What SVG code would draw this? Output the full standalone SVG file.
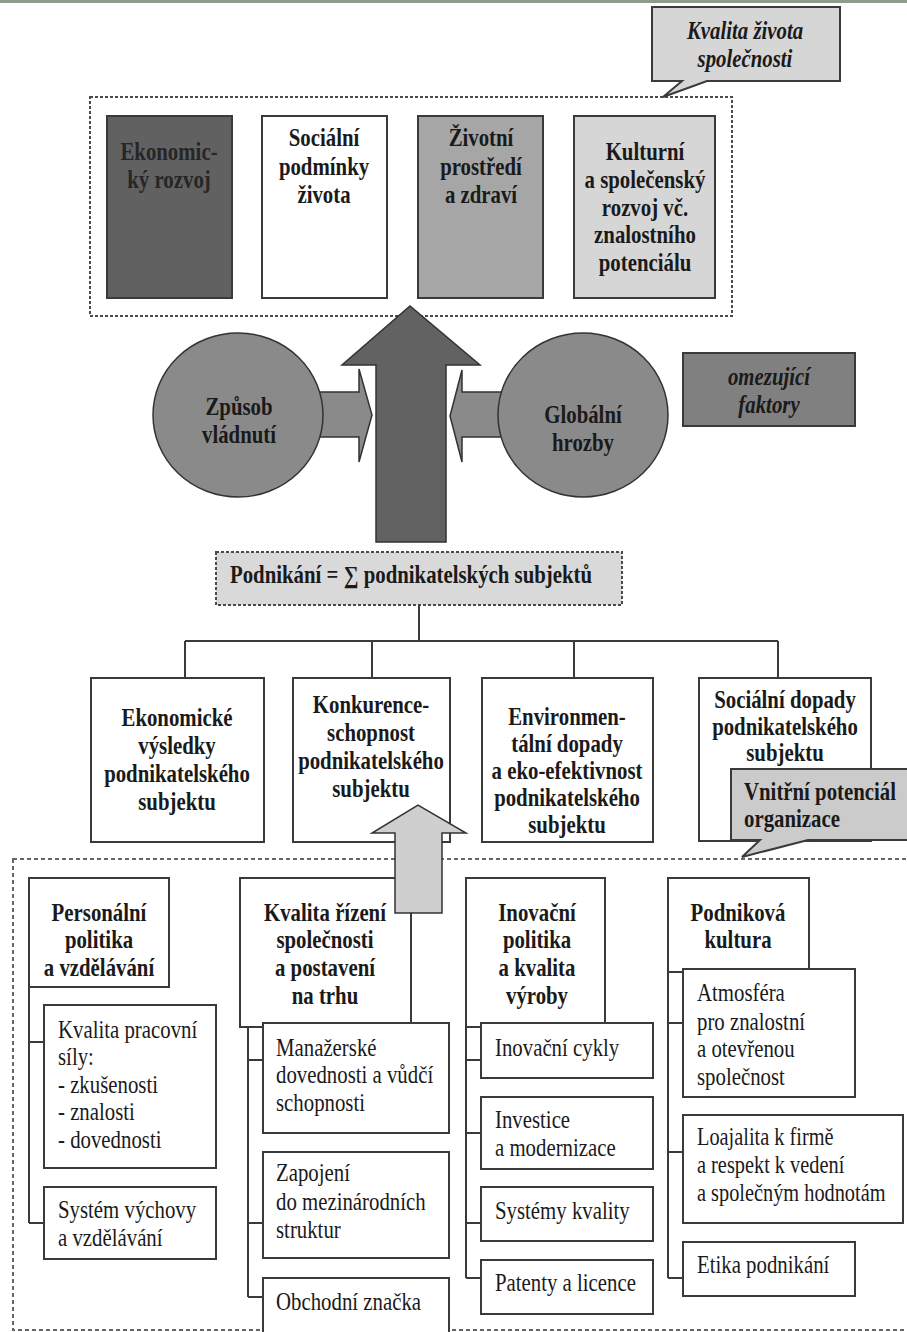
<svg xmlns="http://www.w3.org/2000/svg" width="907" height="1332" viewBox="0 0 907 1332">
<style>
text{font-family:"Liberation Serif","Times New Roman",serif;fill:#1a1a1a;font-size:24.5px}
.b{font-weight:bold;text-anchor:middle}
.bl{font-weight:bold;text-anchor:start}
.bi{font-weight:bold;font-style:italic;text-anchor:middle}
.r{text-anchor:start}
.box{fill:#fff;stroke:#3a3a3a;stroke-width:2}
.ln{fill:none;stroke:#3a3a3a;stroke-width:2}
.dot{fill:none;stroke:#4a4a4a;stroke-width:2;stroke-dasharray:3 2}
.shape{stroke:#333;stroke-width:1.5}
</style>
<rect x="0" y="0" width="907" height="1332" fill="#fff"/>
<rect x="0" y="0" width="907" height="3" fill="#8e9b8d"/>

<rect id="frame-top" class="dot" x="90" y="97" width="642" height="219"/>
<rect id="frame-bottom" x="13" y="859" width="910" height="471" fill="none" stroke="#666" stroke-width="2" stroke-dasharray="4 3"/>

<g id="callout-kvalita">
<path d="M652,7 H840 V81 H707 L663,97 L682,81 H652 Z" fill="#d6d6d6" stroke="#3a3a3a" stroke-width="2"/>
<g transform="translate(745 0) scale(0.85 1)">
<text class="bi" x="0" y="39">Kvalita života</text>
<text class="bi" x="0" y="67">společnosti</text>
</g>
</g>

<g id="box-ekonomicky-rozvoj">
<rect x="107" y="116" width="125" height="182" fill="#616161" stroke="#3a3a3a" stroke-width="2"/>
<g transform="translate(169 0) scale(0.85 1)">
<text class="b" x="0" y="160" style="fill:#262626">Ekonomic-</text>
<text class="b" x="0" y="188" style="fill:#262626">ký rozvoj</text>
</g>
</g>
<g id="box-socialni-podminky">
<rect class="box" x="262" y="116" width="125" height="182"/>
<g transform="translate(324 0) scale(0.85 1)">
<text class="b" x="0" y="146">Sociální</text>
<text class="b" x="0" y="175">podmínky</text>
<text class="b" x="0" y="203">života</text>
</g>
</g>
<g id="box-zivotni-prostredi">
<rect x="418" y="116" width="125" height="182" fill="#a6a6a6" stroke="#3a3a3a" stroke-width="2"/>
<g transform="translate(481 0) scale(0.85 1)">
<text class="b" x="0" y="146">Životní</text>
<text class="b" x="0" y="175">prostředí</text>
<text class="b" x="0" y="203">a zdraví</text>
</g>
</g>
<g id="box-kulturni-rozvoj">
<rect x="574" y="116" width="141" height="182" fill="#d6d6d6" stroke="#3a3a3a" stroke-width="2"/>
<g transform="translate(645 0) scale(0.85 1)">
<text class="b" x="0" y="160">Kulturní</text>
<text class="b" x="0" y="188">a společenský</text>
<text class="b" x="0" y="216">rozvoj vč.</text>
<text class="b" x="0" y="243">znalostního</text>
<text class="b" x="0" y="271">potenciálu</text>
</g>
</g>

<g id="arrow-left-small"><path class="shape" d="M316,392 H359 V369 L372,415 L359,462 V437 H316 Z" fill="#8a8a8a"/></g>
<g id="arrow-right-small"><path class="shape" d="M506,392 H462 V370 L450,416 L462,462 V437 H506 Z" fill="#8a8a8a"/></g>
<g id="circle-zpusob-vladnuti">
<ellipse class="shape" cx="238" cy="415" rx="85" ry="82" fill="#8a8a8a"/>
<g transform="translate(239 0) scale(0.85 1)">
<text class="b" x="0" y="415">Způsob</text>
<text class="b" x="0" y="443">vládnutí</text>
</g>
</g>
<g id="circle-globalni-hrozby">
<ellipse class="shape" cx="583" cy="415" rx="85" ry="82" fill="#8a8a8a"/>
<g transform="translate(583 0) scale(0.85 1)">
<text class="b" x="0" y="423">Globální</text>
<text class="b" x="0" y="451">hrozby</text>
</g>
</g>
<g id="arrow-big-up"><path class="shape" d="M376,542 V365 H342 L410,306 L480,365 H446 V542 Z" fill="#626262"/></g>
<g id="box-omezujici-faktory">
<rect x="683" y="353" width="172" height="73" fill="#808080" stroke="#3a3a3a" stroke-width="2"/>
<g transform="translate(769 0) scale(0.85 1)">
<text class="bi" x="0" y="385">omezující</text>
<text class="bi" x="0" y="413">faktory</text>
</g>
</g>

<g id="box-podnikani">
<rect class="dot" x="216" y="552" width="406" height="53" style="fill:#d9d9d9"/>
<g transform="translate(230 0) scale(0.85 1)">
<text class="bl" x="0" y="583">Podnikání = ∑ podnikatelských subjektů</text>
</g>
</g>

<g id="connectors">
<path class="ln" d="M419,605 V641 M185,641 H778 M185,641 V678 M372,641 V678 M574,641 V678 M778,641 V678"/>
<path class="ln" d="M29,987 V1223 M29,1042 H44 M29,1223 H44"/>
<path class="ln" d="M248,1027 V1297 M248,1060 H263 M248,1223 H263 M248,1297 H263"/>
<path class="ln" d="M466,1027 V1278 M466,1060 H481 M466,1133 H481 M466,1223 H481 M466,1278 H481"/>
<path class="ln" d="M668,972 V1278 M668,1023 H683 M668,1152 H683 M668,1278 H683"/>
</g>

<g id="box-ekonomicke-vysledky">
<rect class="box" x="91" y="678" width="173" height="164"/>
<g transform="translate(177 0) scale(0.85 1)">
<text class="b" x="0" y="726">Ekonomické</text>
<text class="b" x="0" y="754">výsledky</text>
<text class="b" x="0" y="782">podnikatelského</text>
<text class="b" x="0" y="810">subjektu</text>
</g>
</g>
<g id="box-konkurenceschopnost">
<rect class="box" x="293" y="678" width="157" height="164"/>
<g transform="translate(371 0) scale(0.85 1)">
<text class="b" x="0" y="713">Konkurence-</text>
<text class="b" x="0" y="741">schopnost</text>
<text class="b" x="0" y="769">podnikatelského</text>
<text class="b" x="0" y="797">subjektu</text>
</g>
</g>
<g id="box-environmentalni">
<rect class="box" x="482" y="678" width="171" height="164"/>
<g transform="translate(567 0) scale(0.85 1)">
<text class="b" x="0" y="725">Environmen-</text>
<text class="b" x="0" y="752">tální dopady</text>
<text class="b" x="0" y="779">a eko-efektivnost</text>
<text class="b" x="0" y="806">podnikatelského</text>
<text class="b" x="0" y="833">subjektu</text>
</g>
</g>
<g id="box-socialni-dopady">
<rect class="box" x="699" y="678" width="172" height="163"/>
<g transform="translate(785 0) scale(0.85 1)">
<text class="b" x="0" y="708">Sociální dopady</text>
<text class="b" x="0" y="735">podnikatelského</text>
<text class="b" x="0" y="761">subjektu</text>
</g>
</g>
<g id="callout-vnitrni-potencial">
<path d="M731,769 H912 V840 H808 L742,857 L760,840 H731 Z" fill="#cbcbcb" stroke="#3a3a3a" stroke-width="2"/>
<g transform="translate(744 0) scale(0.85 1)">
<text class="bl" x="0" y="800">Vnitřní potenciál</text>
<text class="bl" x="0" y="827">organizace</text>
</g>
</g>

<g id="box-personalni-politika">
<rect class="box" x="29" y="878" width="140" height="109"/>
<g transform="translate(99 0) scale(0.85 1)">
<text class="b" x="0" y="921">Personální</text>
<text class="b" x="0" y="948">politika</text>
<text class="b" x="0" y="976">a vzdělávání</text>
</g>
</g>
<g id="box-kvalita-pracovni-sily">
<rect class="box" x="44" y="1005" width="172" height="163"/>
<g transform="translate(58 0) scale(0.85 1)">
<text class="r" x="0" y="1038">Kvalita pracovní</text>
<text class="r" x="0" y="1065">síly:</text>
<text class="r" x="0" y="1093">- zkušenosti</text>
<text class="r" x="0" y="1120">- znalosti</text>
<text class="r" x="0" y="1148">- dovednosti</text>
</g>
</g>
<g id="box-system-vychovy">
<rect class="box" x="44" y="1187" width="172" height="72"/>
<g transform="translate(58 0) scale(0.85 1)">
<text class="r" x="0" y="1218">Systém výchovy</text>
<text class="r" x="0" y="1246">a vzdělávání</text>
</g>
</g>

<g id="box-kvalita-rizeni">
<rect class="box" x="240" y="878" width="171" height="149"/>
<g transform="translate(325 0) scale(0.85 1)">
<text class="b" x="0" y="921">Kvalita řízení</text>
<text class="b" x="0" y="948">společnosti</text>
<text class="b" x="0" y="976">a postavení</text>
<text class="b" x="0" y="1004">na trhu</text>
</g>
</g>
<g id="box-manazerske">
<rect class="box" x="263" y="1023" width="186" height="110"/>
<g transform="translate(276 0) scale(0.85 1)">
<text class="r" x="0" y="1056">Manažerské</text>
<text class="r" x="0" y="1083">dovednosti a vůdčí</text>
<text class="r" x="0" y="1111">schopnosti</text>
</g>
</g>
<g id="box-zapojeni">
<rect class="box" x="263" y="1152" width="186" height="106"/>
<g transform="translate(276 0) scale(0.85 1)">
<text class="r" x="0" y="1181">Zapojení</text>
<text class="r" x="0" y="1210">do mezinárodních</text>
<text class="r" x="0" y="1238">struktur</text>
</g>
</g>
<g id="box-obchodni-znacka">
<rect class="box" x="263" y="1278" width="186" height="60"/>
<g transform="translate(276 0) scale(0.85 1)">
<text class="r" x="0" y="1310">Obchodní značka</text>
</g>
</g>

<g id="box-inovacni-politika">
<rect class="box" x="466" y="878" width="139" height="149"/>
<g transform="translate(537 0) scale(0.85 1)">
<text class="b" x="0" y="921">Inovační</text>
<text class="b" x="0" y="948">politika</text>
<text class="b" x="0" y="976">a kvalita</text>
<text class="b" x="0" y="1004">výroby</text>
</g>
</g>
<g id="box-inovacni-cykly">
<rect class="box" x="481" y="1023" width="172" height="55"/>
<g transform="translate(495 0) scale(0.85 1)">
<text class="r" x="0" y="1056">Inovační cykly</text>
</g>
</g>
<g id="box-investice">
<rect class="box" x="481" y="1097" width="172" height="72"/>
<g transform="translate(495 0) scale(0.85 1)">
<text class="r" x="0" y="1128">Investice</text>
<text class="r" x="0" y="1156">a modernizace</text>
</g>
</g>
<g id="box-systemy-kvality">
<rect class="box" x="481" y="1187" width="172" height="54"/>
<g transform="translate(495 0) scale(0.85 1)">
<text class="r" x="0" y="1219">Systémy kvality</text>
</g>
</g>
<g id="box-patenty">
<rect class="box" x="481" y="1260" width="172" height="54"/>
<g transform="translate(495 0) scale(0.85 1)">
<text class="r" x="0" y="1291">Patenty a licence</text>
</g>
</g>

<g id="box-podnikova-kultura">
<rect class="box" x="668" y="878" width="141" height="94"/>
<g transform="translate(738 0) scale(0.85 1)">
<text class="b" x="0" y="921">Podniková</text>
<text class="b" x="0" y="948">kultura</text>
</g>
</g>
<g id="box-atmosfera">
<rect class="box" x="683" y="969" width="172" height="128"/>
<g transform="translate(697 0) scale(0.85 1)">
<text class="r" x="0" y="1001">Atmosféra</text>
<text class="r" x="0" y="1030">pro znalostní</text>
<text class="r" x="0" y="1057">a otevřenou</text>
<text class="r" x="0" y="1085">společnost</text>
</g>
</g>
<g id="box-loajalita">
<rect class="box" x="683" y="1115" width="220" height="108"/>
<g transform="translate(697 0) scale(0.83 1)">
<text class="r" x="0" y="1145">Loajalita k firmě</text>
<text class="r" x="0" y="1173">a respekt k vedení</text>
<text class="r" x="0" y="1201">a společným hodnotám</text>
</g>
</g>
<g id="box-etika">
<rect class="box" x="683" y="1242" width="172" height="54"/>
<g transform="translate(697 0) scale(0.85 1)">
<text class="r" x="0" y="1273">Etika podnikání</text>
</g>
</g>

<g id="arrow-light-up"><path class="shape" d="M395,913 V833 H372 L418,805 L466,833 H442 V913 Z" fill="#cfcfcf"/></g>
</svg>
